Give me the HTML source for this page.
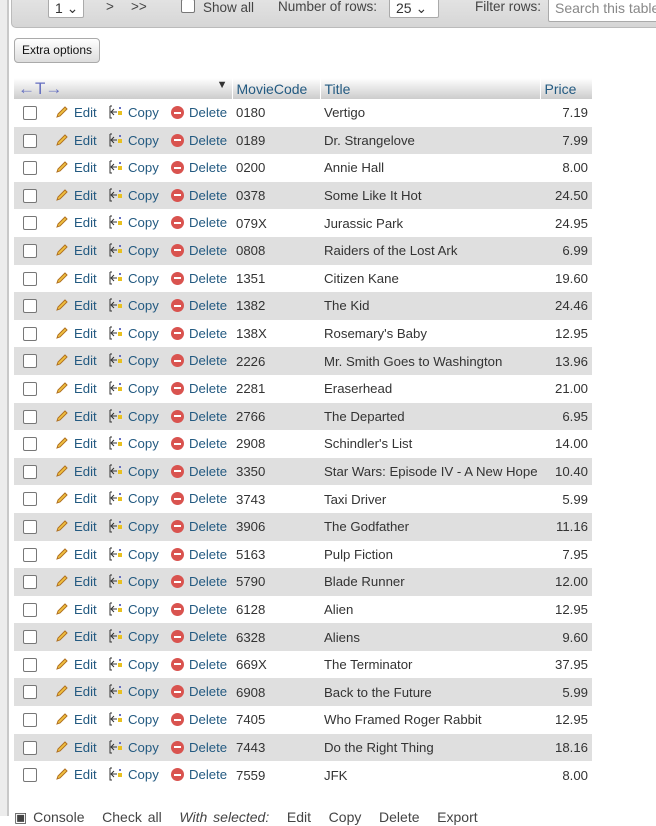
<!DOCTYPE html>
<html><head><meta charset="utf-8"><style>
body{margin:0;width:656px;height:816px;overflow:hidden;background:#fff;font-family:"Liberation Sans",sans-serif;font-size:13.2px;color:#333;position:relative}
.strip{position:absolute;left:0;top:0;width:7px;height:816px;background:#ececec;border-right:2px solid #c8c8c8}
.topbar{position:absolute;left:11px;top:-5px;width:660px;height:31px;background:linear-gradient(#e4e4e4,#d6d6d6);border:1px solid #bbb;border-radius:0 0 0 5px}
.sel{position:absolute;background:#fff;border:1px solid #aaa;border-radius:2px;height:22px;top:-4px;font-size:14px;line-height:22px;padding-left:6px;box-sizing:border-box}
.t{position:absolute;top:-1px;color:#444;font-size:13.5px}
.btn{position:absolute;left:14px;top:38px;width:84px;height:23px;border:1px solid #aaa;border-radius:4px;background:linear-gradient(#fff,#ddd);font-size:12px;line-height:22px;text-align:center;color:#111}
table{position:absolute;left:14px;top:78px;border-collapse:collapse;width:578px;table-layout:fixed}
th{height:21px;background:linear-gradient(#fff,#ccc);text-align:left;color:#235a81;font-weight:normal;padding:0 4px;border-left:1px solid #fff;font-size:14px}
td{height:27.6px;padding:0 4px;white-space:nowrap;position:relative}
tr.e td{background:#dfdfdf}
.l{color:#235a81;position:absolute;top:6px}
.cb{display:inline-block;width:12px;height:12px;border:1px solid #777;border-radius:2px;background:#fff;vertical-align:middle}
.pen{display:inline-block;width:14px;height:14px;vertical-align:-2px;margin-right:5px}
.del{display:inline-block;width:13px;height:13px;border-radius:50%;background:#d9534f;vertical-align:-2px;margin-right:5px;position:relative}
.del:after{content:"";position:absolute;left:3px;top:5.5px;width:7px;height:2px;background:#fff}
.r{text-align:right}
.bottom{position:absolute;left:14px;top:809px;width:700px;font-size:14px;color:#444;word-spacing:2px}
</style></head><body>
<div class="strip"></div>
<div class="topbar"></div>
<div class="sel" style="left:48px;width:36px">1 &#8964;</div>
<div class="t" style="left:106px">&gt;</div>
<div class="t" style="left:131px">&gt;&gt;</div>
<div class="t" style="left:181px"><span class="cb" style="margin:0 8px 0 0;vertical-align:-1px"></span>Show all</div>
<div class="t" style="left:278px">Number of rows:</div>
<div class="sel" style="left:389px;width:50px">25 &#8964;</div>
<div class="t" style="left:475px">Filter rows:</div>
<div class="sel" style="left:548px;width:120px;color:#888;top:-4px;height:26px">Search this table</div>
<div class="btn">Extra options</div>
<table>
<colgroup><col style="width:218px"><col style="width:88px"><col style="width:220px"><col style="width:52px"></colgroup>
<thead><tr>
<th style="border-left:none"><span style="color:#6670c0;font-size:17px">←T→</span><span style="float:right;font-size:11px;color:#333">▼</span></th>
<th>MovieCode</th>
<th>Title</th>
<th>Price</th>
</tr></thead>
<tbody id="tb"></tbody></table>
<div class="bottom">▣ Console &nbsp; Check all &nbsp; <i>With selected:</i> &nbsp; Edit &nbsp; Copy &nbsp; Delete &nbsp; Export</div>
<script>
const codes=["0180","0189","0200","0378","079X","0808","1351","1382","138X","2226","2281","2766","2908","3350","3743","3906","5163","5790","6128","6328","669X","6908","7405","7443","7559"];
const titles=["Vertigo","Dr. Strangelove","Annie Hall","Some Like It Hot","Jurassic Park","Raiders of the Lost Ark","Citizen Kane","The Kid","Rosemary's Baby","Mr. Smith Goes to Washington","Eraserhead","The Departed","Schindler's List","Star Wars: Episode IV - A New Hope","Taxi Driver","The Godfather","Pulp Fiction","Blade Runner","Alien","Aliens","The Terminator","Back to the Future","Who Framed Roger Rabbit","Do the Right Thing","JFK"];
const prices=["7.19","7.99","8.00","24.50","24.95","6.99","19.60","24.46","12.95","13.96","21.00","6.95","14.00","10.40","5.99","11.16","7.95","12.00","12.95","9.60","37.95","5.99","12.95","18.16","8.00"];
const pen='<svg class="pen" viewBox="0 0 14 14"><path d="M2 12 L3 9 L10 2 L12 4 L5 11 Z" fill="#f0c040" stroke="#b07020"/></svg>';
const cp='<svg class="pen" viewBox="0 0 14 14"><path d="M1 1h2M1 1v12h2M2 7h6M5 4l-3 3 3 3" stroke="#333" fill="none"/><rect x="9" y="6" width="4" height="4" fill="#e8c020"/><rect x="10" y="2" width="2" height="2" fill="#6670c0"/></svg>';
const tb=document.getElementById('tb');
codes.forEach((c,i)=>{
 const tr=document.createElement('tr');
 
 
 if(i%2)tr.className='e';
 tr.innerHTML='<td><span class="cb" style="position:absolute;left:9px;top:7px"></span><span style="left:41px" class="l">'+pen+'Edit</span><span style="left:95px" class="l">'+cp+'Copy</span><span style="left:157px" class="l"><span class="del"></span>Delete</span></td><td>'+c+'</td><td>'+titles[i]+'</td><td class="r">'+prices[i]+'</td>';
 tb.appendChild(tr);
});
</script>
</body></html>
